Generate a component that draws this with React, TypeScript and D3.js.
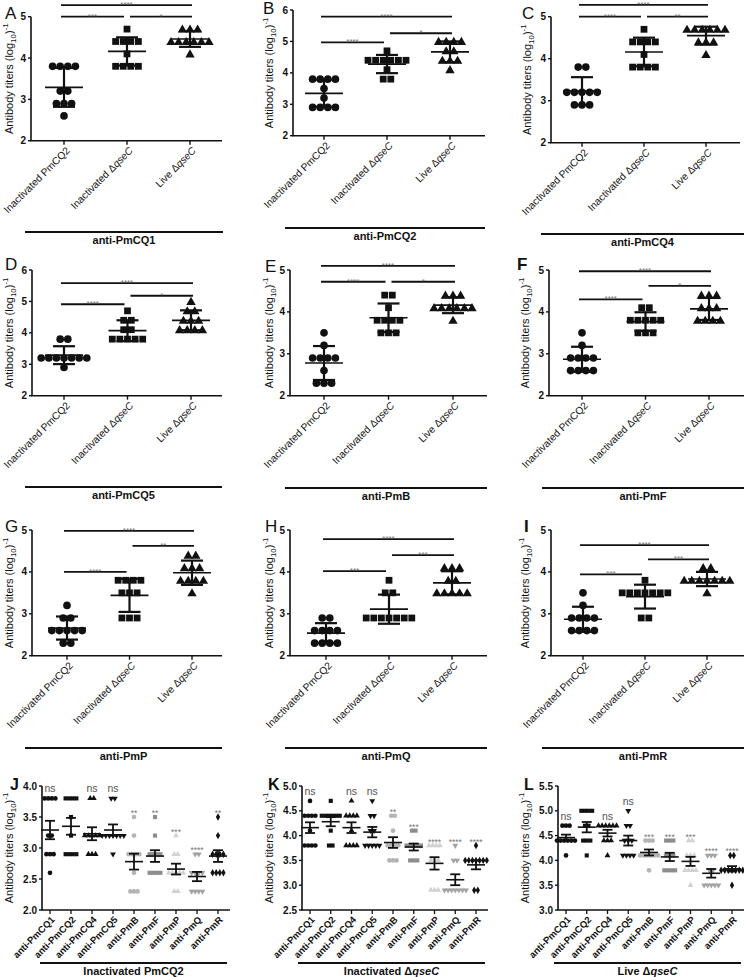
import React from "react";
import * as d3 from "d3";

// ---------- data ----------
const groupNames = ["Inactivated PmCQ2", "Inactivated ΔqseC", "Live ΔqseC"];
const antigenNames = ["anti-PmCQ1", "anti-PmCQ2", "anti-PmCQ4", "anti-PmCQ5", "anti-PmB", "anti-PmF", "anti-PmP", "anti-PmQ", "anti-PmR"];

// log10 antibody titers of ten mice, per immunisation group [Inactivated PmCQ2, Inactivated ΔqseC, Live ΔqseC]
const antiPmCQ1 = [
  [3.8, 3.8, 3.8, 3.8, 3.2, 3.2, 2.9, 2.9, 2.9, 2.6],
  [4.7, 4.4, 4.4, 4.4, 4.4, 4.1, 3.8, 3.8, 3.8, 3.8],
  [4.7, 4.7, 4.7, 4.4, 4.4, 4.4, 4.4, 4.4, 4.4, 4.1],
];
const antiPmCQ2 = [
  [3.8, 3.8, 3.8, 3.8, 3.5, 3.2, 2.9, 2.9, 2.9, 2.9],
  [4.7, 4.4, 4.4, 4.4, 4.4, 4.4, 4.4, 4.1, 3.8, 3.8],
  [5.0, 5.0, 5.0, 5.0, 4.7, 4.7, 4.4, 4.4, 4.4, 4.1],
];
const antiPmCQ4 = [
  [3.8, 3.8, 3.2, 3.2, 3.2, 3.2, 3.2, 2.9, 2.9, 2.9],
  [4.7, 4.4, 4.4, 4.4, 4.4, 4.1, 3.8, 3.8, 3.8, 3.8],
  [4.7, 4.7, 4.7, 4.7, 4.7, 4.7, 4.4, 4.4, 4.4, 4.1],
];
const antiPmCQ5 = [
  [3.8, 3.8, 3.2, 3.2, 3.2, 3.2, 3.2, 3.2, 3.2, 2.9],
  [4.7, 4.4, 4.4, 4.1, 4.1, 3.8, 3.8, 3.8, 3.8, 3.8],
  [5.0, 4.7, 4.7, 4.4, 4.4, 4.4, 4.1, 4.1, 4.1, 4.1],
];
const antiPmB = [
  [3.5, 3.2, 2.9, 2.9, 2.9, 2.9, 2.6, 2.3, 2.3, 2.3],
  [4.4, 4.4, 4.1, 3.8, 3.8, 3.8, 3.8, 3.5, 3.5, 3.5],
  [4.4, 4.4, 4.4, 4.1, 4.1, 4.1, 4.1, 4.1, 4.1, 3.8],
];
const antiPmF = [
  [3.5, 3.2, 2.9, 2.9, 2.9, 2.9, 2.6, 2.6, 2.6, 2.6],
  [4.1, 4.1, 3.8, 3.8, 3.8, 3.8, 3.8, 3.5, 3.5, 3.5],
  [4.4, 4.4, 4.4, 4.1, 4.1, 4.1, 3.8, 3.8, 3.8, 3.8],
];
const antiPmP = [
  [3.2, 2.9, 2.9, 2.6, 2.6, 2.6, 2.6, 2.6, 2.3, 2.3],
  [3.8, 3.8, 3.8, 3.8, 3.5, 3.5, 3.5, 2.9, 2.9, 2.9],
  [4.4, 4.4, 4.1, 4.1, 4.1, 3.8, 3.8, 3.8, 3.8, 3.5],
];
const antiPmQ = [
  [2.9, 2.9, 2.6, 2.6, 2.6, 2.6, 2.3, 2.3, 2.3, 2.3],
  [3.8, 3.5, 3.5, 2.9, 2.9, 2.9, 2.9, 2.9, 2.9, 2.9],
  [4.1, 4.1, 4.1, 3.8, 3.8, 3.5, 3.5, 3.5, 3.5, 3.5],
];
const antiPmR = [
  [3.5, 3.2, 2.9, 2.9, 2.9, 2.9, 2.6, 2.6, 2.6, 2.6],
  [3.8, 3.5, 3.5, 3.5, 3.5, 3.5, 3.5, 3.5, 2.9, 2.9],
  [4.1, 4.1, 3.8, 3.8, 3.8, 3.8, 3.8, 3.8, 3.8, 3.5],
];
const antigenData = [antiPmCQ1, antiPmCQ2, antiPmCQ4, antiPmCQ5, antiPmB, antiPmF, antiPmP, antiPmQ, antiPmR];

// significance brackets: [from group, to group, height (log10 units), label]
type Bracket = [number, number, number, string];
const bracketsA: Bracket[] = [[0, 2, 5.28, "****"], [0, 1, 5.0, "***"], [1, 2, 5.0, "*"]];
const bracketsB: Bracket[] = [[0, 2, 5.79, "****"], [0, 1, 4.97, "****"], [1, 2, 5.26, "*"]];
const bracketsC: Bracket[] = [[0, 2, 5.28, "****"], [0, 1, 5.0, "****"], [1, 2, 5.0, "**"]];
const bracketsD: Bracket[] = [[0, 2, 5.58, "****"], [0, 1, 4.91, "****"], [1, 2, 5.18, "*"]];
const bracketsE: Bracket[] = [[0, 2, 5.1, "****"], [0, 1, 4.72, "****"], [1, 2, 4.72, "*"]];
const bracketsF: Bracket[] = [[0, 2, 4.97, "****"], [0, 1, 4.3, "****"], [1, 2, 4.62, "*"]];
const bracketsG: Bracket[] = [[0, 2, 4.98, "****"], [0, 1, 4.0, "****"], [1, 2, 4.62, "**"]];
const bracketsH: Bracket[] = [[0, 2, 4.78, "****"], [0, 1, 4.02, "***"], [1, 2, 4.4, "***"]];
const bracketsI: Bracket[] = [[0, 2, 4.64, "****"], [0, 1, 3.94, "***"], [1, 2, 4.3, "***"]];

const ticksTo5 = [2, 3, 4, 5];
const ticksTo6 = [2, 3, 4, 5, 6];
const ticksJ = [2.0, 2.5, 3.0, 3.5, 4.0];
const ticksK = [2.5, 3.0, 3.5, 4.0, 4.5, 5.0];
const ticksL = [3.0, 3.5, 4.0, 4.5, 5.0, 5.5];

const sigInactPmCQ2 = ["ns", "", "ns", "ns", "**", "**", "***", "****", "**"];
const sigInactQseC = ["ns", "", "ns", "ns", "**", "***", "****", "****", "****"];
const sigLiveQseC = ["ns", "", "ns", "ns", "***", "***", "***", "****", "****"];

// ---------- styling / layout ----------
const FONT = "'Liberation Sans', Arial, Helvetica, sans-serif";
const INK = "#111";

function spread(vals: number[], sp: number) {
  const counts = d3.rollup(vals, (v) => v.length, (v) => v);
  const seen = new Map<number, number>();
  return vals.map((v) => {
    const n = counts.get(v) as number;
    const i = seen.get(v) || 0;
    seen.set(v, i + 1);
    return (i - (n - 1) / 2) * sp;
  });
}

function Label({ s }: { s: string }) {
  const k = s.indexOf("Δ");
  if (k < 0) return <>{s}</>;
  return (
    <>
      {s.slice(0, k + 1)}
      <tspan fontStyle="italic">{s.slice(k + 1)}</tspan>
    </>
  );
}

function YTitle({ x, y, size }: { x: number; y: number; size: number }) {
  return (
    <text transform={`translate(${x},${y}) rotate(-90)`} textAnchor="middle" fontSize={size} fill={INK} fontFamily={FONT}>
      Antibody titers (log
      <tspan dy={3} fontSize={size * 0.72}>10</tspan>
      <tspan dy={-3}>)</tspan>
      <tspan dy={-5} fontSize={size * 0.72}>-1</tspan>
    </text>
  );
}

const symbolTypes = [d3.symbolCircle, d3.symbolSquare, d3.symbolTriangle];
const symbolSizes = [46, 46, 38];

type PanelCfg = {
  letter: string; letterX: number; letterY: number; bold?: boolean;
  data: number[][]; brackets: Bracket[]; ticks: number[]; title: string;
  ax: number; c0: number; c2: number; right: number; yTop: number; yBot: number;
  ylabX: number; lineY: number; lineX1: number; lineX2: number;
};

function DotPanel({ cfg }: { cfg: PanelCfg }) {
  const yMax = cfg.ticks[cfg.ticks.length - 1];
  const y = d3.scaleLinear().domain([2, yMax]).range([cfg.yBot, cfg.yTop]);
  const x = d3.scalePoint<string>().domain(groupNames).range([cfg.c0, cfg.c2]);
  return (
    <g fontFamily={FONT}>
      <text x={cfg.letterX} y={cfg.letterY} fontSize={17} fontWeight={cfg.bold ? "bold" : "normal"} fill={INK}>{cfg.letter}</text>
      <YTitle x={cfg.ylabX} y={(cfg.yTop + cfg.yBot) / 2} size={11} />
      {/* axes */}
      <line x1={cfg.ax} x2={cfg.ax} y1={cfg.yTop} y2={cfg.yBot} stroke={INK} strokeWidth={1.6} />
      <line x1={cfg.ax - 0.8} x2={cfg.right} y1={cfg.yBot} y2={cfg.yBot} stroke={INK} strokeWidth={1.6} />
      {cfg.ticks.map((t) => (
        <g key={t}>
          <line x1={cfg.ax - 3} x2={cfg.ax} y1={y(t)} y2={y(t)} stroke={INK} strokeWidth={1.4} />
          <text x={cfg.ax - 5} y={y(t)} dy="0.35em" textAnchor="end" fontSize={10} fontWeight="bold" fill={INK}>{t}</text>
        </g>
      ))}
      {groupNames.map((g) => (
        <g key={g}>
          <line x1={x(g)} x2={x(g)} y1={cfg.yBot} y2={cfg.yBot + 4} stroke={INK} strokeWidth={1.4} />
          <text transform={`translate(${(x(g) as number) + 4},${cfg.yBot + 8}) rotate(-45)`} textAnchor="end" dy="0.35em" fontSize={10.2} fill={INK}>
            <Label s={g} />
          </text>
        </g>
      ))}
      {/* brackets */}
      {cfg.brackets.map(([a, b, h, lab], i) => {
        const xa = (x(groupNames[a]) as number) + (a === 1 ? 3 : -3);
        const xb = (x(groupNames[b]) as number) + (b === 1 ? -3 : 2);
        return (
          <g key={i}>
            <line x1={xa} x2={xb} y1={y(h)} y2={y(h)} stroke={INK} strokeWidth={1.8} />
            <text x={(xa + xb) / 2} y={y(h) + 2} textAnchor="middle" fontSize={8} fill="#777">{lab}</text>
          </g>
        );
      })}
      {/* points + mean/SD */}
      {cfg.data.map((vals, gi) => {
        const cx = x(groupNames[gi]) as number;
        const offs = spread(vals, 7.6);
        const path = d3.symbol().type(symbolTypes[gi]).size(symbolSizes[gi])() as string;
        const m = d3.mean(vals) as number;
        const sd = d3.deviation(vals) as number;
        return (
          <g key={gi}>
            {vals.map((v, i) => (
              <path key={i} d={path} transform={`translate(${cx + offs[i]},${y(v) + (gi === 2 ? 0.8 : 0)})`} fill={INK} />
            ))}
            <line x1={cx} x2={cx} y1={y(m + sd)} y2={y(m - sd)} stroke={INK} strokeWidth={2.2} />
            <line x1={cx - 11} x2={cx + 11} y1={y(m + sd)} y2={y(m + sd)} stroke={INK} strokeWidth={2.2} />
            <line x1={cx - 11} x2={cx + 11} y1={y(m - sd)} y2={y(m - sd)} stroke={INK} strokeWidth={2.2} />
            <line x1={cx - 19} x2={cx + 19} y1={y(m)} y2={y(m)} stroke={INK} strokeWidth={1.7} />
          </g>
        );
      })}
      <line x1={cfg.lineX1} x2={cfg.lineX2} y1={cfg.lineY} y2={cfg.lineY} stroke={INK} strokeWidth={2} />
      <text x={(cfg.lineX1 + cfg.lineX2) / 2} y={cfg.lineY + 12} textAnchor="middle" fontSize={11} fontWeight="bold" fill={INK}>{cfg.title}</text>
    </g>
  );
}

const row4Symbols = [d3.symbolCircle, d3.symbolSquare, d3.symbolTriangle, d3.symbolTriangle, d3.symbolCircle, d3.symbolSquare, d3.symbolTriangle, d3.symbolTriangle, d3.symbolDiamond];
const row4Flip = [false, false, false, true, false, false, false, true, false];
const row4Sizes = [17, 17, 15, 15, 17, 17, 15, 15, 16];
const row4Colors = [INK, INK, INK, INK, "#b4b4b4", "#8c8c8c", "#d2d2d2", "#a3a3a3", INK];

type Row4Cfg = {
  letter: string; letterX: number; gi: number; ticks: number[]; sig: string[];
  ax: number; c0: number; c8: number; right: number; ylabX: number;
  lineX1: number; lineX2: number; title: string;
};

function SummaryPanel({ cfg }: { cfg: Row4Cfg }) {
  const yTop = 786, yBot = 910, lineY = 963;
  const y = d3.scaleLinear().domain([cfg.ticks[0], cfg.ticks[cfg.ticks.length - 1]]).range([yBot, yTop]);
  const x = d3.scalePoint<string>().domain(antigenNames).range([cfg.c0, cfg.c8]);
  return (
    <g fontFamily={FONT}>
      <text x={cfg.letterX} y={790} fontSize={16} fontWeight="bold" fill={INK}>{cfg.letter}</text>
      <YTitle x={cfg.ylabX} y={(yTop + yBot) / 2} size={11} />
      <line x1={cfg.ax} x2={cfg.ax} y1={yTop} y2={yBot} stroke={INK} strokeWidth={1.6} />
      <line x1={cfg.ax - 0.8} x2={cfg.right} y1={yBot} y2={yBot} stroke={INK} strokeWidth={1.6} />
      {cfg.ticks.map((t) => (
        <g key={t}>
          <line x1={cfg.ax - 3} x2={cfg.ax} y1={y(t)} y2={y(t)} stroke={INK} strokeWidth={1.4} />
          <text x={cfg.ax - 5} y={y(t)} dy="0.35em" textAnchor="end" fontSize={10} fontWeight="bold" fill={INK}>{d3.format(".1f")(t)}</text>
        </g>
      ))}
      {antigenNames.map((a, ai) => {
        const cx = x(a) as number;
        const vals = antigenData[ai][cfg.gi];
        const offs = spread(vals, 3.6);
        const path = d3.symbol().type(row4Symbols[ai]).size(row4Sizes[ai])() as string;
        const m = d3.mean(vals) as number;
        const sem = (d3.deviation(vals) as number) / Math.sqrt(vals.length);
        const top = y(d3.max(vals) as number);
        const s = cfg.sig[ai];
        return (
          <g key={a}>
            <line x1={cx} x2={cx} y1={yBot} y2={yBot + 4} stroke={INK} strokeWidth={1.3} />
            <text transform={`translate(${cx + 3},${yBot + 8}) rotate(-45)`} textAnchor="end" dy="0.35em" fontSize={9.5} fontWeight="bold" fill={INK}>{a}</text>
            {vals.map((v, i) => (
              <path key={i} d={path} transform={`translate(${cx + offs[i]},${y(v)})${row4Flip[ai] ? " rotate(180)" : ""}`} fill={row4Colors[ai]} />
            ))}
            <line x1={cx} x2={cx} y1={y(m + sem)} y2={y(m - sem)} stroke={INK} strokeWidth={1.8} />
            <line x1={cx - 5} x2={cx + 5} y1={y(m + sem)} y2={y(m + sem)} stroke={INK} strokeWidth={1.8} />
            <line x1={cx - 5} x2={cx + 5} y1={y(m - sem)} y2={y(m - sem)} stroke={INK} strokeWidth={1.8} />
            <line x1={cx - 9} x2={cx + 9} y1={y(m)} y2={y(m)} stroke={INK} strokeWidth={1.6} />
            {s === "ns" ? (
              <text x={cx} y={top - 6} textAnchor="middle" fontSize={10.5} fill="#555">ns</text>
            ) : s ? (
              <text x={cx} y={top - 1} textAnchor="middle" fontSize={8.5} fill="#777">{s}</text>
            ) : null}
          </g>
        );
      })}
      <line x1={cfg.lineX1} x2={cfg.lineX2} y1={lineY} y2={lineY} stroke={INK} strokeWidth={2} />
      <text x={(cfg.lineX1 + cfg.lineX2) / 2} y={lineY + 12} textAnchor="middle" fontSize={11} fontWeight="bold" fill={INK}>
        <Label s={cfg.title} />
      </text>
    </g>
  );
}

const panels: PanelCfg[] = [
  { letter: "A", letterX: 5, letterY: 19, data: antiPmCQ1, brackets: bracketsA, ticks: ticksTo5, title: "anti-PmCQ1", ax: 31, c0: 64, c2: 190, right: 222, yTop: 16.7, yBot: 140.7, ylabX: 13, lineY: 232, lineX1: 25, lineX2: 223 },
  { letter: "B", letterX: 263, letterY: 14, data: antiPmCQ2, brackets: bracketsB, ticks: ticksTo6, title: "anti-PmCQ2", ax: 293, c0: 324, c2: 450, right: 485, yTop: 10, yBot: 135.7, ylabX: 273, lineY: 228, lineX1: 285, lineX2: 485 },
  { letter: "C", letterX: 522, letterY: 19, data: antiPmCQ4, brackets: bracketsC, ticks: ticksTo5, title: "anti-PmCQ4", ax: 551, c0: 582, c2: 706, right: 740, yTop: 16.7, yBot: 142.7, ylabX: 531, lineY: 234, lineX1: 541, lineX2: 744 },
  { letter: "D", letterX: 5, letterY: 270, data: antiPmCQ5, brackets: bracketsD, ticks: ticksTo6, title: "anti-PmCQ5", ax: 32, c0: 64, c2: 191, right: 222, yTop: 270, yBot: 395.7, ylabX: 13, lineY: 487, lineX1: 25, lineX2: 222 },
  { letter: "E", letterX: 265, letterY: 272, data: antiPmB, brackets: bracketsE, ticks: ticksTo5, title: "anti-PmB", ax: 290, c0: 324, c2: 453, right: 487, yTop: 270, yBot: 395.7, ylabX: 273, lineY: 488, lineX1: 285, lineX2: 487 },
  { letter: "F", letterX: 517, letterY: 270, bold: true, data: antiPmF, brackets: bracketsF, ticks: ticksTo5, title: "anti-PmF", ax: 549, c0: 582, c2: 709, right: 744, yTop: 270, yBot: 395.7, ylabX: 529, lineY: 488, lineX1: 542, lineX2: 744 },
  { letter: "G", letterX: 5, letterY: 532, data: antiPmP, brackets: bracketsG, ticks: ticksTo5, title: "anti-PmP", ax: 32, c0: 67, c2: 192, right: 222, yTop: 530, yBot: 655.7, ylabX: 13, lineY: 748, lineX1: 25, lineX2: 222 },
  { letter: "H", letterX: 265, letterY: 532, data: antiPmQ, brackets: bracketsH, ticks: ticksTo5, title: "anti-PmQ", ax: 290, c0: 326, c2: 452, right: 487, yTop: 530, yBot: 655.7, ylabX: 273, lineY: 748, lineX1: 285, lineX2: 487 },
  { letter: "I", letterX: 524, letterY: 532, bold: true, data: antiPmR, brackets: bracketsI, ticks: ticksTo5, title: "anti-PmR", ax: 551, c0: 583, c2: 707, right: 744, yTop: 530, yBot: 655.7, ylabX: 529, lineY: 748, lineX1: 542, lineX2: 744 },
];

const row4: Row4Cfg[] = [
  { letter: "J", letterX: 10, gi: 0, ticks: ticksJ, sig: sigInactPmCQ2, ax: 42, c0: 50, c8: 218, right: 230, ylabX: 13, lineX1: 40, lineX2: 227, title: groupNames[0] },
  { letter: "K", letterX: 268, gi: 1, ticks: ticksK, sig: sigInactQseC, ax: 302, c0: 310, c8: 476, right: 488, ylabX: 273, lineX1: 298, lineX2: 485, title: groupNames[1] },
  { letter: "L", letterX: 524, gi: 2, ticks: ticksL, sig: sigLiveQseC, ax: 558, c0: 566, c8: 732, right: 744, ylabX: 529, lineX1: 554, lineX2: 741, title: groupNames[2] },
];

export default function App() {
  return (
    <svg width={744} height={977} style={{ position: "absolute", left: 0, top: 0, background: "#fff" }}>
      <rect width={744} height={977} fill="#fff" />
      {panels.map((p) => (
        <DotPanel key={p.letter} cfg={p} />
      ))}
      {row4.map((p) => (
        <SummaryPanel key={p.letter} cfg={p} />
      ))}
    </svg>
  );
}
